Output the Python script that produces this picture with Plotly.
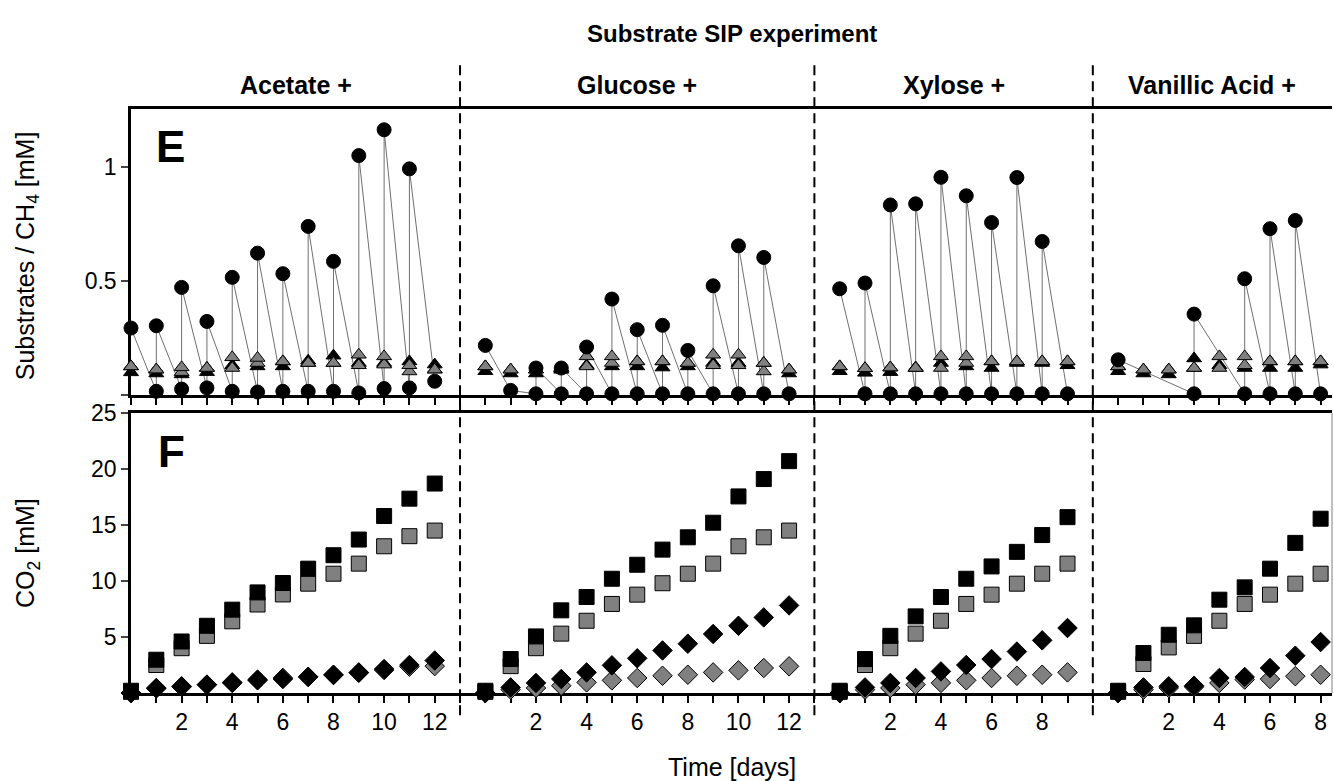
import plotly.graph_objects as go

# ---------------- data ----------------
panel_names = ["Acetate +", "Glucose +", "Xylose +", "Vanillic Acid +"]
panel_offsets = [0, 14, 28, 39]          # position of day 0 of each panel on the shared time axis
separator_pos = [13, 27, 38]
panel_label_days = [[2, 4, 6, 8, 10, 12], [2, 4, 6, 8, 10, 12], [2, 4, 6, 8], [2, 4, 6, 8]]

# substrate concentration (before / after feeding), drawn as a connected sequence
ace_sub_days = [0, 1, 1, 2, 2, 3, 3, 4, 4, 5, 5, 6, 6, 7, 7, 8, 8, 9, 9, 10, 10, 11, 11, 12]
ace_sub_vals = [0.293, 0.016, 0.303, 0.026, 0.471, 0.031, 0.322, 0.016, 0.515, 0.013, 0.621, 0.016, 0.531,
                0.016, 0.738, 0.016, 0.585, 0.009, 1.048, 0.028, 1.161, 0.031, 0.990, 0.060]
glu_sub_days = [0, 1, 2, 2, 3, 3, 4, 4, 5, 5, 6, 6, 7, 7, 8, 8, 9, 9, 10, 10, 11, 11, 12]
glu_sub_vals = [0.217, 0.020, 0.005, 0.118, 0.005, 0.118, 0.005, 0.210, 0.005, 0.420, 0.005, 0.286, 0.005,
                0.305, 0.005, 0.195, 0.005, 0.478, 0.005, 0.653, 0.005, 0.602, 0.005]
xyl_sub_days = [0, 1, 1, 2, 2, 3, 3, 4, 4, 5, 5, 6, 6, 7, 7, 8, 8, 9]
xyl_sub_vals = [0.465, 0.005, 0.490, 0.005, 0.832, 0.005, 0.837, 0.005, 0.953, 0.005, 0.872, 0.005, 0.755,
                0.005, 0.952, 0.005, 0.672, 0.005]
van_sub_days = [0, 3, 3, 5, 5, 6, 6, 7, 7, 8]
van_sub_vals = [0.154, 0.005, 0.354, 0.005, 0.509, 0.005, 0.728, 0.005, 0.764, 0.005]

# CH4 (triangles)
ace_ch4_black = [0.099, 0.094, 0.090, 0.100, 0.130, 0.125, 0.125, 0.150, 0.172, 0.140, 0.140, 0.147, 0.133]
ace_ch4_gray_a = [0.125, 0.111, 0.121, 0.118, 0.165, 0.162, 0.147, 0.140, 0.140, 0.176, 0.169, 0.130, 0.111]
ace_ch4_gray_b = [0.125, 0.111, 0.100, 0.118, 0.118, 0.140, 0.147, 0.140, 0.140, 0.130, 0.133, 0.103, 0.111]
glu_ch4_black = [0.104, 0.094, 0.094, 0.110, 0.130, 0.125, 0.125, 0.120, 0.125, 0.140, 0.140, 0.140, 0.094]
glu_ch4_gray_a = [0.125, 0.111, 0.111, 0.118, 0.169, 0.169, 0.147, 0.147, 0.140, 0.176, 0.176, 0.140, 0.111]
glu_ch4_gray_b = [0.125, 0.111, 0.111, 0.118, 0.125, 0.140, 0.147, 0.147, 0.140, 0.130, 0.130, 0.103, 0.111]
xyl_ch4_black = [0.104, 0.097, 0.100, 0.120, 0.140, 0.125, 0.118, 0.140, 0.140, 0.130]
xyl_ch4_gray_a = [0.125, 0.117, 0.120, 0.118, 0.169, 0.169, 0.147, 0.147, 0.147, 0.147]
xyl_ch4_gray_b = [0.125, 0.117, 0.120, 0.118, 0.118, 0.140, 0.147, 0.147, 0.147, 0.147]
van_ch4_black = [0.104, 0.094, 0.090, 0.160, 0.130, 0.118, 0.118, 0.118, 0.133]
van_ch4_gray_a = [0.125, 0.111, 0.111, 0.118, 0.169, 0.169, 0.147, 0.147, 0.147]
van_ch4_gray_b = [0.125, 0.111, 0.111, 0.118, 0.118, 0.130, 0.147, 0.147, 0.147]

# CO2 (squares) and second CO2 series (diamonds)
ace_sq_black = [0.2, 2.97, 4.60, 6.00, 7.44, 8.98, 9.82, 11.10, 12.30, 13.70, 15.80, 17.35, 18.70]
ace_sq_gray = [0.1, 2.50, 4.00, 5.10, 6.40, 7.90, 8.80, 9.76, 10.65, 11.55, 13.10, 14.00, 14.50]
ace_dm_black = [0.0, 0.45, 0.60, 0.74, 0.90, 1.13, 1.25, 1.43, 1.63, 1.84, 2.14, 2.50, 2.90]
ace_dm_gray = [0.0, 0.40, 0.55, 0.75, 0.95, 1.20, 1.35, 1.45, 1.60, 1.80, 2.05, 2.35, 2.40]
glu_sq_black = [0.2, 3.03, 5.05, 7.38, 8.57, 10.20, 11.45, 12.80, 13.90, 15.20, 17.55, 19.10, 20.70]
glu_sq_gray = [0.1, 2.40, 4.00, 5.30, 6.45, 7.95, 8.78, 9.80, 10.65, 11.55, 13.10, 13.90, 14.50]
glu_dm_black = [0.0, 0.50, 0.90, 1.25, 1.84, 2.47, 3.10, 3.80, 4.40, 5.27, 6.00, 6.75, 7.82]
glu_dm_gray = [0.0, 0.30, 0.45, 0.65, 0.95, 1.13, 1.34, 1.54, 1.63, 1.84, 2.02, 2.23, 2.38]
xyl_sq_black = [0.2, 3.03, 5.10, 6.84, 8.57, 10.20, 11.30, 12.60, 14.10, 15.70]
xyl_sq_gray = [0.1, 2.50, 4.00, 5.30, 6.45, 7.95, 8.78, 9.76, 10.65, 11.55]
xyl_dm_black = [0.0, 0.50, 0.90, 1.34, 1.93, 2.50, 3.03, 3.70, 4.70, 5.80]
xyl_dm_gray = [0.0, 0.30, 0.45, 0.74, 0.90, 1.13, 1.34, 1.54, 1.63, 1.84]
van_sq_black = [0.2, 3.57, 5.20, 6.04, 8.33, 9.43, 11.10, 13.40, 15.56]
van_sq_gray = [0.1, 2.59, 4.07, 5.10, 6.45, 7.95, 8.78, 9.76, 10.65]
van_dm_black = [0.0, 0.50, 0.60, 0.65, 1.34, 1.43, 2.23, 3.33, 4.55]
van_dm_gray = [0.0, 0.30, 0.45, 0.55, 0.90, 1.20, 1.25, 1.50, 1.63]

title_text = "Substrate SIP experiment"
y1_title = "Substrates / CH<sub>4</sub> [mM]"
y2_title = "CO<sub>2</sub> [mM]"
x_title = "Time [days]"
panel_letters = ["E", "F"]

# ---------------- figure ----------------
FONT = "Arial, 'Liberation Sans', sans-serif"
BLACK = "#000000"
GRAY = "#808080"

sub_days = [ace_sub_days, glu_sub_days, xyl_sub_days, van_sub_days]
sub_vals = [ace_sub_vals, glu_sub_vals, xyl_sub_vals, van_sub_vals]
ch4_black = [ace_ch4_black, glu_ch4_black, xyl_ch4_black, van_ch4_black]
ch4_gray_a = [ace_ch4_gray_a, glu_ch4_gray_a, xyl_ch4_gray_a, van_ch4_gray_a]
ch4_gray_b = [ace_ch4_gray_b, glu_ch4_gray_b, xyl_ch4_gray_b, van_ch4_gray_b]
sq_black = [ace_sq_black, glu_sq_black, xyl_sq_black, van_sq_black]
sq_gray = [ace_sq_gray, glu_sq_gray, xyl_sq_gray, van_sq_gray]
dm_black = [ace_dm_black, glu_dm_black, xyl_dm_black, van_dm_black]
dm_gray = [ace_dm_gray, glu_dm_gray, xyl_dm_gray, van_dm_gray]

fig = go.Figure()


def mk(symbol, size, fill):
    return dict(symbol=symbol, size=size, color=fill, line=dict(color=BLACK, width=1))


for i in range(4):
    off = panel_offsets[i]
    nd = len(ch4_black[i])
    days = [off + d for d in range(nd)]
    # substrates: connecting line
    fig.add_trace(go.Scatter(x=[off + d for d in sub_days[i]], y=sub_vals[i], mode="lines",
                             line=dict(color="#707070", width=1), xaxis="x", yaxis="y",
                             showlegend=False, hoverinfo="skip", cliponaxis=False))
    # CH4 triangles
    fig.add_trace(go.Scatter(x=days, y=ch4_black[i], mode="markers", marker=mk("triangle-up", 13, BLACK),
                             xaxis="x", yaxis="y", showlegend=False, cliponaxis=False))
    fig.add_trace(go.Scatter(x=days, y=ch4_gray_b[i], mode="markers", marker=mk("triangle-up", 13, GRAY),
                             xaxis="x", yaxis="y", showlegend=False, cliponaxis=False))
    fig.add_trace(go.Scatter(x=days, y=ch4_gray_a[i], mode="markers", marker=mk("triangle-up", 13, GRAY),
                             xaxis="x", yaxis="y", showlegend=False, cliponaxis=False))
    # substrate circles
    fig.add_trace(go.Scatter(x=[off + d for d in sub_days[i]], y=sub_vals[i], mode="markers",
                             marker=mk("circle", 14, BLACK), xaxis="x", yaxis="y",
                             showlegend=False, cliponaxis=False))
    # CO2
    fig.add_trace(go.Scatter(x=days, y=sq_gray[i], mode="markers", marker=mk("square", 15, GRAY),
                             xaxis="x2", yaxis="y2", showlegend=False, cliponaxis=False))
    fig.add_trace(go.Scatter(x=days, y=sq_black[i], mode="markers", marker=mk("square", 15, BLACK),
                             xaxis="x2", yaxis="y2", showlegend=False, cliponaxis=False))
    fig.add_trace(go.Scatter(x=days, y=dm_gray[i], mode="markers", marker=mk("diamond", 15, GRAY),
                             xaxis="x2", yaxis="y2", showlegend=False, cliponaxis=False))
    fig.add_trace(go.Scatter(x=days, y=dm_black[i], mode="markers", marker=mk("diamond", 15, BLACK),
                             xaxis="x2", yaxis="y2", showlegend=False, cliponaxis=False))

# tick values and labels on shared time axis
xmax = panel_offsets[-1] + 8.45
tickvals = list(range(0, int(xmax) + 1))
ticktext = []
for t in tickvals:
    lab = ""
    for i in range(4):
        if (t - panel_offsets[i]) in panel_label_days[i] and t >= panel_offsets[i]:
            if i == 3 or t < panel_offsets[i + 1] - 1:
                lab = str(t - panel_offsets[i])
    ticktext.append(lab)

axis_font = dict(family=FONT, size=23, color=BLACK)
xcommon = dict(range=[0, xmax], showgrid=False, zeroline=False, showline=True, linecolor=BLACK,
               linewidth=2.5, mirror=True, ticks="outside", ticklen=7, tickwidth=2, tickcolor=BLACK,
               tickvals=tickvals, tickfont=axis_font, layer="below traces")

fig.update_layout(
    width=1334, height=781, autosize=False,
    margin=dict(l=131, r=2, t=109, b=88),
    paper_bgcolor="white", plot_bgcolor="white",
    font=dict(family=FONT, color=BLACK),
    xaxis=dict(anchor="y", domain=[0, 1], showticklabels=False, **xcommon),
    xaxis2=dict(anchor="y2", domain=[0, 1], ticktext=ticktext, **xcommon),
    yaxis=dict(domain=[0.5103, 1], range=[0, 1.252], showgrid=False, zeroline=False, showline=True,
               linecolor=BLACK, linewidth=2.5, ticks="outside", ticklen=7, tickwidth=2,
               tickvals=[0, 0.5, 1], ticktext=["", "0.5", "1"], tickfont=axis_font, layer="below traces"),
    yaxis2=dict(domain=[0, 0.4795], range=[0, 25], showgrid=False, zeroline=False, showline=True,
                linecolor=BLACK, linewidth=2.5, ticks="outside", ticklen=7, tickwidth=2,
                tickvals=[0, 5, 10, 15, 20, 25], ticktext=["", "5", "10", "15", "20", "25"],
                tickfont=axis_font, layer="below traces"),
)

shapes = []
for s in separator_pos:
    shapes.append(dict(type="line", xref="x", yref="paper", x0=s, x1=s, y0=-0.038, y1=1.075,
                       line=dict(color=BLACK, width=2, dash="10px,6px"), layer="above"))
# thin right frame line of lower panel
shapes.append(dict(type="line", xref="paper", yref="paper", x0=1, x1=1, y0=0, y1=0.4795,
                   line=dict(color="#808080", width=1)))
fig.update_layout(shapes=shapes)

ann = []
ann.append(dict(text="<b>" + title_text + "</b>", x=0.5, xref="paper", y=1.13, yref="paper",
                showarrow=False, font=dict(family=FONT, size=24), xanchor="center", yanchor="middle"))
for i, name in enumerate(panel_names):
    left = 0 if i == 0 else separator_pos[i - 1]
    right = separator_pos[i] if i < 3 else xmax
    ann.append(dict(text="<b>" + name + "</b>", x=(left + right) / 2, xref="x", y=1.041, yref="paper",
                    showarrow=False, font=dict(family=FONT, size=25), xanchor="center", yanchor="middle"))
ann.append(dict(text="<b>" + panel_letters[0] + "</b>", x=1.58, xref="x", y=0.9366, yref="paper",
                showarrow=False, font=dict(family=FONT, size=44), xanchor="center", yanchor="middle"))
ann.append(dict(text="<b>" + panel_letters[1] + "</b>", x=1.6, xref="x", y=0.4127, yref="paper",
                showarrow=False, font=dict(family=FONT, size=44), xanchor="center", yanchor="middle"))
ann.append(dict(text=y1_title, x=-0.0865, xref="paper", y=0.748, yref="paper", textangle=-90,
                showarrow=False, font=dict(family=FONT, size=25), xanchor="center", yanchor="middle"))
ann.append(dict(text=y2_title, x=-0.0865, xref="paper", y=0.24, yref="paper", textangle=-90,
                showarrow=False, font=dict(family=FONT, size=25), xanchor="center", yanchor="middle"))
ann.append(dict(text=x_title, x=0.5, xref="paper", y=-0.1267, yref="paper",
                showarrow=False, font=dict(family=FONT, size=25), xanchor="center", yanchor="middle"))
fig.update_layout(annotations=ann)

fig.write_html("out.html", config={"displayModeBar": False},
               post_script="document.body.style.margin='0';document.body.style.overflow='hidden';")
